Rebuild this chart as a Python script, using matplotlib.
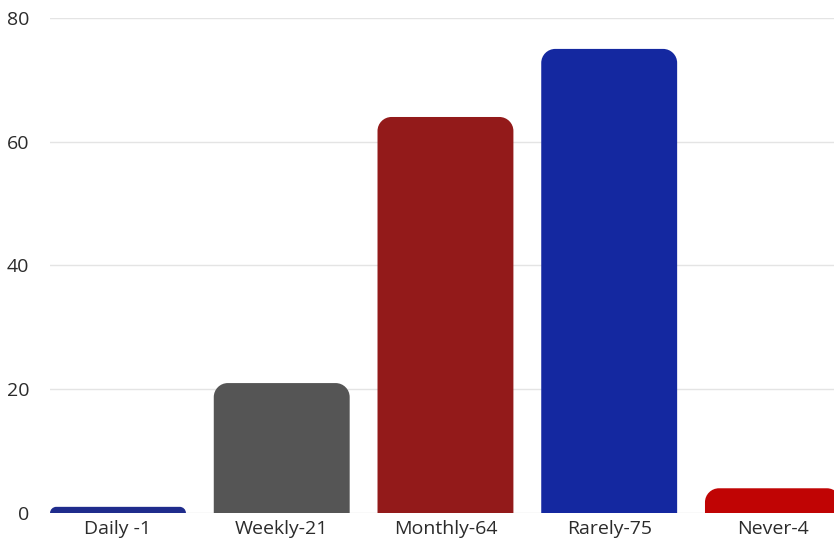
import matplotlib
matplotlib.use("Agg")
import matplotlib.pyplot as plt
from matplotlib.path import Path
from matplotlib.patches import PathPatch

labels = ["Daily -1", "Weekly-21", "Monthly-64", "Rarely-75", "Never-4"]
values = [1, 21, 64, 75, 4]
colors = ["#1f2c8c", "#555555", "#931a1a", "#1428a0", "#c00404"]

plt.rcParams["font.family"] = ["Open Sans", "DejaVu Sans"]

fig = plt.figure(figsize=(8.34, 5.43), dpi=100)
ax = fig.add_axes([0.06, 0.0552, 0.94, 0.9117])

width = 0.83
ax.set_xlim(-width / 2, 4.373)
ax.set_ylim(0, 80)

# pixels per data unit, used to keep the corner radius round
fig.canvas.draw()
bbox = ax.get_window_extent()
sx = bbox.width / (ax.get_xlim()[1] - ax.get_xlim()[0])
sy = bbox.height / (ax.get_ylim()[1] - ax.get_ylim()[0])


def rounded_bar(x, h, color, r_px=14):
    r = min(r_px, h * sy)
    rx, ry = r / sx, r / sy
    x0, x1 = x - width / 2, x + width / 2
    k = 0.5523
    verts = [
        (x0, 0), (x0, h - ry),
        (x0, h - ry + k * ry), (x0 + rx - k * rx, h), (x0 + rx, h),
        (x1 - rx, h),
        (x1 - rx + k * rx, h), (x1, h - ry + k * ry), (x1, h - ry),
        (x1, 0), (x0, 0),
    ]
    codes = [Path.MOVETO, Path.LINETO,
             Path.CURVE4, Path.CURVE4, Path.CURVE4,
             Path.LINETO,
             Path.CURVE4, Path.CURVE4, Path.CURVE4,
             Path.LINETO, Path.CLOSEPOLY]
    ax.add_patch(PathPatch(Path(verts, codes), facecolor=color,
                           edgecolor="none", zorder=3))


for i, (v, c) in enumerate(zip(values, colors)):
    rounded_bar(i, v, c)

ax.set_yticks([0, 20, 40, 60, 80])
ax.set_xticks(range(len(labels)))
ax.set_xticklabels(labels)
ax.grid(axis="y", color="#e4e4e4", linewidth=1, zorder=0)
ax.tick_params(axis="both", length=0, labelsize=14, colors="#2b2b2b")
ax.tick_params(axis="y", pad=15)
ax.tick_params(axis="x", pad=5)
for s in ax.spines.values():
    s.set_visible(False)

fig.savefig("out.png", dpi=100)
